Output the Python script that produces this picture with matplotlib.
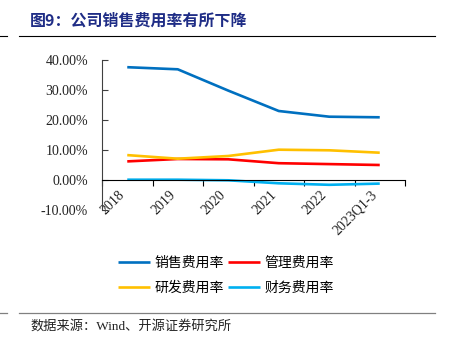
import matplotlib
matplotlib.use("Agg")
import matplotlib.pyplot as plt
from matplotlib.lines import Line2D
from matplotlib.ticker import FuncFormatter

categories = ["2018", "2019", "2020", "2021", "2022", "2023Q1-3"]
sales_rate = [37.6, 36.9, 29.8, 23.0, 21.1, 20.9]
admin_rate = [6.2, 7.0, 6.9, 5.6, 5.3, 5.0]
rd_rate = [8.3, 7.1, 8.0, 10.1, 9.9, 9.1]
fin_rate = [0.1, 0.1, -0.1, -1.1, -1.6, -1.2]
series_names = ["销售费用率", "管理费用率", "研发费用率", "财务费用率"]
colors = ["#0070C0", "#FF0000", "#FFC000", "#00B0F0"]
title = "图9：公司销售费用率有所下降"
source = "数据来源：Wind、开源证券研究所"

W, H = 450, 344
fig = plt.figure(figsize=(W / 100, H / 100), dpi=100)
cjk = ["Noto Sans CJK SC", "DejaVu Sans"]
serif = ["Liberation Serif", "Noto Sans CJK SC"]

ax = fig.add_axes([102 / W, 1 - 210 / H, 303 / W, 150 / H])
x = list(range(len(categories)))
data = [sales_rate, admin_rate, rd_rate, fin_rate]
lines = []
for vals, c, n in zip(data, colors, series_names):
    ln, = ax.plot(x, vals, color=c, lw=1.9, label=n, solid_capstyle="butt")
    lines.append(ln)

ax.set_xlim(-0.5, len(categories) - 0.5)
ax.set_ylim(-10, 40)
ax.set_yticks([-10, 0, 10, 20, 30, 40])
ax.yaxis.set_major_formatter(FuncFormatter(lambda v, p: f"{v:.2f}%"))
for s in ["top", "right"]:
    ax.spines[s].set_visible(False)
ax.spines["bottom"].set_position(("data", 0))
ax.spines["left"].set_color("#404040")
ax.spines["bottom"].set_color("black")
ax.tick_params(axis="y", direction="in", length=4, color="#404040", labelsize=10, pad=10)
ax.set_xticks([i - 0.5 for i in range(len(categories) + 1)], minor=False)
ax.set_xticklabels([])
ax.set_xticks(x, minor=True)
ax.set_xticklabels(categories, minor=True, rotation=45, ha="right", va="top")
ax.tick_params(axis="x", which="major", direction="out", length=4, color="black")
ax.tick_params(axis="x", which="minor", length=0, labelsize=10, pad=6)
for lab in ax.get_xticklabels(minor=True) + ax.get_yticklabels():
    lab.set_fontfamily(serif)
    lab.set_color("#222222")

handles = [lines[0], lines[2], lines[1], lines[3]]
labels = [series_names[0], series_names[2], series_names[1], series_names[3]]
fig.legend(handles, labels, ncol=2, loc="center", bbox_to_anchor=(226 / W, 1 - 275 / H),
           frameon=False, prop={"family": cjk, "size": 10}, handlelength=2.3,
           handletextpad=0.35, columnspacing=0.3, labelspacing=0.8)

fig.text(30 / W, 1 - 21 / H, title, family=cjk, weight="bold", size=11.5,
         color="#1F2D86", va="center", ha="left")
fig.add_artist(Line2D([0, 7 / W], [1 - 36 / H] * 2, color="black", lw=0.8))
fig.add_artist(Line2D([19 / W, 435 / W], [1 - 36 / H] * 2, color="black", lw=0.8))
fig.add_artist(Line2D([0, 7 / W], [1 - 313 / H] * 2, color="#808080", lw=0.9))
fig.add_artist(Line2D([19 / W, 435 / W], [1 - 313 / H] * 2, color="#808080", lw=0.9))
fig.text(30 / W, 1 - 326 / H, source, family=serif, size=9.5, color="#222222",
         va="center", ha="left")

fig.savefig("out.png", dpi=100)
